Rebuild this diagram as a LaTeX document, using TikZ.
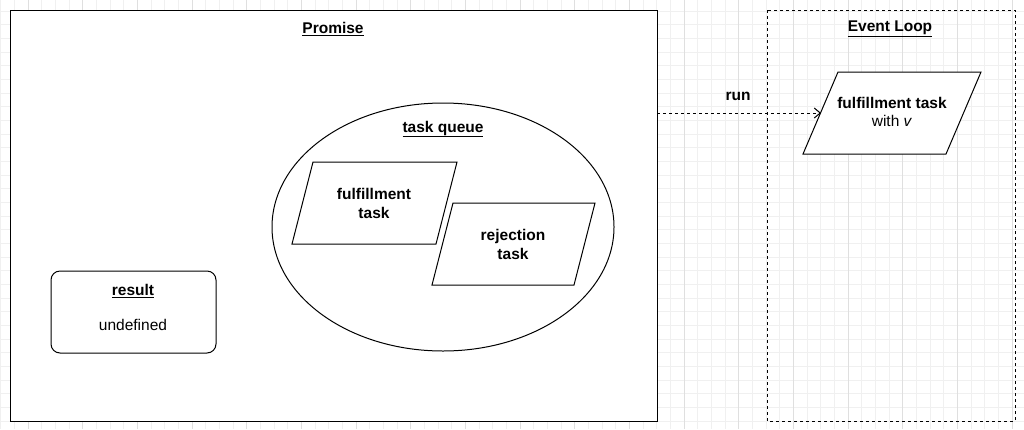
\documentclass[tikz,border=0pt]{standalone}
\usepackage{fontspec}
\setmainfont{Liberation Sans}
\usetikzlibrary{arrows.meta}
\begin{document}
\begin{tikzpicture}[x=1pt,y=-1pt,
  txt/.style={font=\fontsize{15.5}{18}\selectfont, align=center},
  ttl/.style={font=\fontsize{15.5}{18}\selectfont\bfseries},
  shp/.style={draw=black, line width=1pt, fill=white}]
\useasboundingbox (0,0) rectangle (1024,429);
\fill[white] (0,0) rectangle (1024,429);
\foreach \i in {0,...,75} {\draw[gray!12, line width=0.6pt] (0.5+\i*13.67,0) -- (0.5+\i*13.67,429);}
\foreach \j in {-1,...,31} {\draw[gray!12, line width=0.6pt] (0,11+\j*13.67) -- (1024,11+\j*13.67);}
\foreach \i in {2,6,...,74} {\draw[gray!25, line width=0.6pt] (0.5+\i*13.67,0) -- (0.5+\i*13.67,429);}
% Promise
\draw[shp] (10,10) rectangle (657,421);
\node[coordinate] (pr) at (657,113) {};
\node[ttl] (ptitle) at (333,29) {\underline{Promise}};
\draw[shp] (443,227) ellipse [x radius=171, y radius=124];
\node[ttl] (tq) at (443,129) {\underline{task queue}};
\draw[shp] (313,162) -- (457,162) -- (436,244) -- (292,244) -- cycle;
\node[txt,font=\fontsize{15.5}{19}\selectfont\bfseries] (ft) at (374,203) {fulfillment\\task};
\draw[shp] (453,203) -- (595,203) -- (574,285) -- (432,285) -- cycle;
\node[txt,font=\fontsize{15.5}{19}\selectfont\bfseries] (rt) at (513,244) {rejection\\task};
\draw[shp, rounded corners=9pt] (51,271) rectangle (216,353);
\node[ttl] (res) at (133,291) {\underline{result}};
\node[txt] (und) at (133,325) {undefined};
% Event loop
\draw[black, line width=1pt, dash pattern=on 3pt off 3pt] (767,10) rectangle (1015,421);
\node[ttl] (etitle) at (890,29) {\underline{Event Loop}};
\draw[shp] (838,72) -- (981,72) -- (946,154) -- (803,154) -- cycle;
\node[coordinate] (pl) at (821,113) {};
\node[txt] (ef) at (892,112) {\textbf{fulfillment task}\\with \textit{v}};
\draw[line width=1pt, dash pattern=on 3pt off 3pt, -{Straight Barb[length=6pt,width=10pt]}] (pr) -- (pl);
\node[ttl] (run) at (738,96) {run};
\end{tikzpicture}
\end{document}
